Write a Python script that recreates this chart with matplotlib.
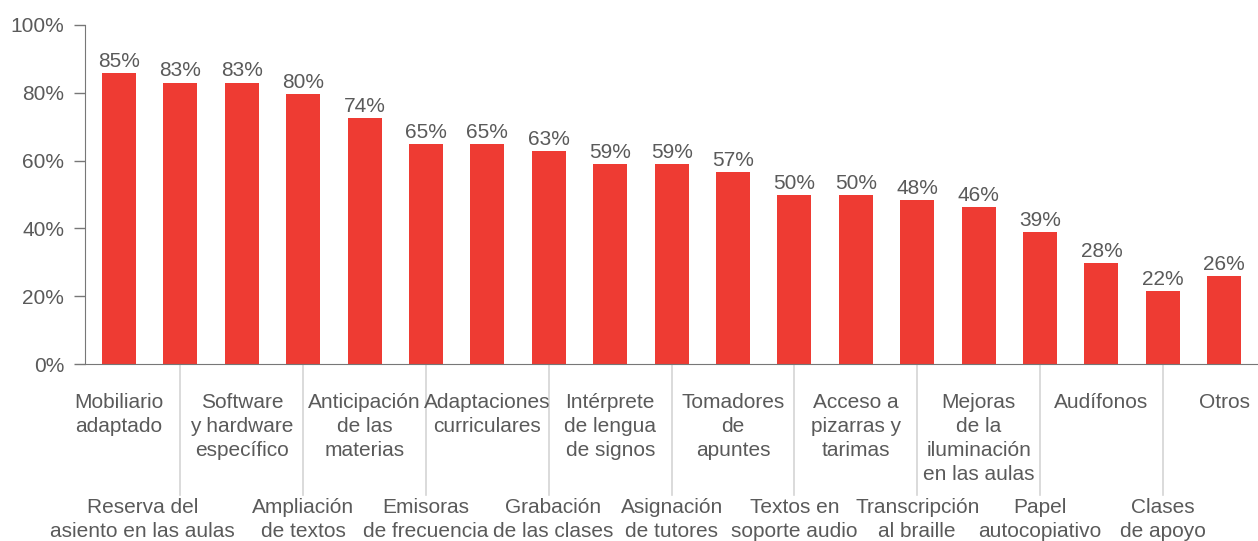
import numpy as np
import matplotlib.pyplot as plt

plt.rcParams['font.family'] = ['Liberation Sans', 'DejaVu Sans']

categorias = [
    "Mobiliario\nadaptado",
    "Reserva del\nasiento en las aulas",
    "Software\ny hardware\nespecífico",
    "Ampliación\nde textos",
    "Anticipación\nde las\nmaterias",
    "Emisoras\nde frecuencia",
    "Adaptaciones\ncurriculares",
    "Grabación\nde las clases",
    "Intérprete\nde lengua\nde signos",
    "Asignación\nde tutores",
    "Tomadores\nde\napuntes",
    "Textos en\nsoporte audio",
    "Acceso a\npizarras y\ntarimas",
    "Transcripción\nal braille",
    "Mejoras\nde la\niluminación\nen las aulas",
    "Papel\nautocopiativo",
    "Audífonos",
    "Clases\nde apoyo",
    "Otros",
]
# alturas de las barras
valores = [85.9, 83.0, 83.0, 79.6, 72.6, 64.9, 64.9, 62.8, 59.0, 59.0,
           56.6, 49.9, 49.9, 48.4, 46.3, 38.9, 29.8, 21.5, 26.0]
# etiquetas que aparecen encima
etiquetas = ["85%", "83%", "83%", "80%", "74%", "65%", "65%", "63%", "59%", "59%",
             "57%", "50%", "50%", "48%", "46%", "39%", "28%", "22%", "26%"]
yticks = [0, 20, 40, 60, 80, 100]

rojo = '#ee3b33'
gris = '#5a5a5a'
W, H = 1258, 541
fs = 15

fig = plt.figure(figsize=(W / 100, H / 100), dpi=100)
ax = fig.add_axes([85 / W, (H - 364) / H, (W - 85) / W, (364 - 25) / H])

x = np.arange(len(categorias))
ax.bar(x, valores, width=0.554, color=rojo, zorder=2)

for xi, v, t in zip(x, valores, etiquetas):
    ax.annotate(t, (xi, v), xytext=(0, 4.5), textcoords='offset points',
                ha='center', va='baseline', fontsize=fs, color=gris)

ax.set_ylim(0, 100)
ax.set_xlim(-0.554, 18.55)
ax.set_yticks(yticks)
ax.set_yticklabels([f"{t}%" for t in yticks])
ax.tick_params(axis='y', length=8, width=1, color='#777777', labelsize=fs,
               labelcolor=gris, pad=7)
ax.set_xticks([])
for s in ['top', 'right']:
    ax.spines[s].set_visible(False)
ax.spines['left'].set_color('#777777')
ax.spines['bottom'].set_color('#777777')

trans = ax.get_xaxis_transform()
desplaz = {1: -0.62, 7: 0.07}
for i, cat in enumerate(categorias):
    if i % 2 == 0:
        ax.text(i, -0.086, cat, transform=trans, ha='center', va='top',
                fontsize=fs, color=gris, linespacing=1.33)
    else:
        ax.plot([i, i], [0, -0.386], transform=trans, color='#d4d4d4',
                lw=1.2, clip_on=False, zorder=1)
        ax.text(i + desplaz.get(i, 0), -0.394, cat, transform=trans, ha='center',
                va='top', fontsize=fs, color=gris, linespacing=1.33)

plt.savefig('out.png', dpi=100)
